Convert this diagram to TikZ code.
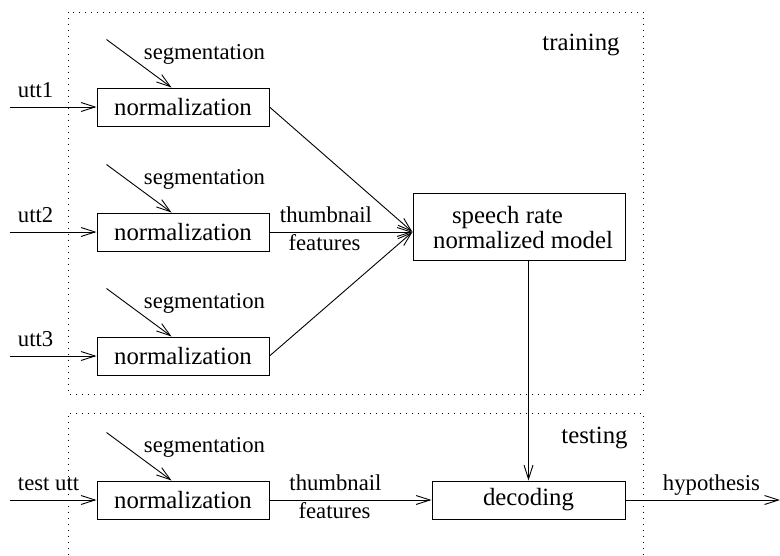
\documentclass[tikz,border=0pt]{standalone}
\usepackage{fontspec}
\setmainfont{Liberation Serif}
\usetikzlibrary{arrows.meta,calc}

\newcommand\bigtxt{\fontsize{24.8}{28}\selectfont}
\newcommand\smalltxt{\fontsize{22.7}{26}\selectfont}

\begin{document}
\begin{tikzpicture}[x=1pt,y=-1pt,
  line width=0.9pt,
  >={Straight Barb[length=14pt,width=9pt]},
  frame/.style={line width=1pt, dash pattern=on 1pt off 5pt},
  proc/.style={draw, line width=1pt, minimum width=172pt, minimum height=38pt, inner sep=0pt, font=\bigtxt},
  biglbl/.style={inner sep=0pt, font=\bigtxt, anchor=base},
  lbl/.style={inner sep=0pt, font=\smalltxt, anchor=base},
]
\useasboundingbox (0,0) rectangle (780,555);

% dotted frames around the two phases
\draw[frame] (68,12) rectangle (643,394);
\draw[frame] (68,555) -- (68,413) -- (643,413) -- (643,555);
\node[biglbl, anchor=base east] (trainlbl) at (620,50) {training};
\node[biglbl, anchor=base east] (testlbl) at (628,443) {testing};

% normalization blocks
\node[proc] (n1) at (183,107) {normalization};
\node[proc] (n2) at (183,232) {normalization};
\node[proc] (n3) at (183,356) {normalization};
\node[proc] (n4) at (183,500) {normalization};

% model and decoder
\node[draw, line width=1pt, minimum width=212pt, minimum height=67pt, inner sep=0pt] (spm) at (519,226.5) {};
\node[biglbl] (spmA) at (507.5,223) {speech rate};
\node[biglbl] (spmB) at (523,248) {normalized model};
\node[proc, minimum width=193pt] (dec) at (528.5,500) {decoding};

% utterance inputs
\foreach \n/\t in {n1/utt1, n2/utt2, n3/utt3, n4/test utt} {
  \coordinate (src-\n) at ($(\n.west)+(-87,0)$);
  \draw[->] (src-\n) -- (\n.west);
  \node[lbl, anchor=base west] (lab-\n) at ($(\n.west)+(-79,-10)$) {\t};
}
% segmentation inputs
\foreach \n in {n1,n2,n3,n4} {
  \coordinate (seg-\n) at ($(\n.north west)+(10,-48)$);
  \draw[->] (seg-\n) -- ($(\n.north west)+(75,0)$);
  \node[lbl, anchor=base west] (seglab-\n) at ($(\n.north west)+(47,-28)$) {segmentation};
}

% training flow
\coordinate (hub) at (spm.west |- n2.east);
\draw[->] (n1.east) -- (hub);
\draw[->] (n2.east) -- (hub);
\draw[->] (n3.east) -- (hub);
\node[lbl] (tf1) at (326,222) {thumbnail};
\node[lbl] (tf2) at (324.5,250) {features};

% testing flow
\draw[->] (n4.east) -- (dec.west);
\node[lbl] (tf3) at (335.5,490) {thumbnail};
\node[lbl] (tf4) at (334.5,518) {features};
\draw[->] (spm.south -| dec.north) -- (dec.north);
\coordinate (out) at (780,500);
\draw[->] (dec.east) -- (out);
\node[lbl] (hyp) at (711.5,490) {hypothesis};
\end{tikzpicture}
\end{document}
